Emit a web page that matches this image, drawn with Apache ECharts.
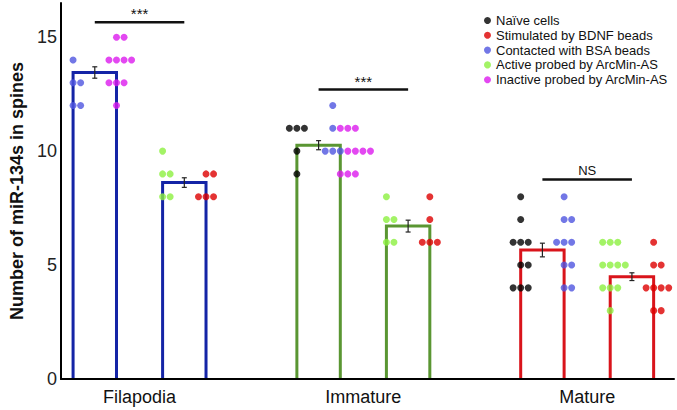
<!DOCTYPE html>
<html>
<head>
<meta charset="utf-8">
<script src="https://cdn.jsdelivr.net/npm/echarts@6/dist/echarts.min.js"></script>
<style>
html,body{margin:0;padding:0;background:#fff;}
#chart{width:677px;height:410px;}
</style>
</head>
<body>
<div id="chart"></div>
<script>
// ---------- data ----------
const categories = ['Filapodia', 'Immature', 'Mature'];
const seriesNames = ['Naïve cells', 'Stimulated by BDNF beads', 'Contacted with BSA beads', 'Active probed by ArcMin-AS', 'Inactive probed by ArcMin-AS'];
const yTicks = [0, 5, 10, 15];

const filapodiaBSA = [14, 13, 13, 12, 12];
const filapodiaInactive = [15, 15, 14, 14, 14, 14, 13, 13, 13, 12];
const filapodiaActive = [10, 9, 9, 8, 8];
const filapodiaBDNF = [9, 9, 8, 8, 8];

const immatureNaive = [11, 11, 11, 10, 9];
const immatureBSA = [12, 11, 10, 10, 10];
const immatureInactive = [11, 11, 11, 10, 10, 10, 10, 9, 9, 9];
const immatureActive = [8, 7, 7, 6, 6];
const immatureBDNF = [8, 7, 6, 6, 6];

const matureNaive = [8, 7, 6, 6, 6, 5, 5, 4, 4, 4];
const matureBSA = [8, 7, 7, 6, 6, 6, 5, 5, 4, 4];
const matureActive = [6, 6, 6, 5, 5, 5, 5, 4, 4, 4, 3];
const matureBDNF = [6, 5, 5, 4, 4, 4, 4, 3, 3];

// bars: two per category (mean, sem)
const barMeans = [13.45, 8.62, 10.26, 6.71, 5.66, 4.49];
const barErrors = [0.25, 0.21, 0.2, 0.26, 0.3, 0.17];

const sigLabels = ['***', '***', 'NS'];
const sigLevels = [15.65, 12.7, 8.75];

// ---------- style / layout ----------
const barColors = ['#1424a6', '#5a9632', '#d9141b'];
const dotColors = ['#000000', '#dd0000', '#4f55e0', '#8cf040', '#dc1aee'];
const FONT = 'Liberation Sans, Arial, Helvetica, sans-serif';
const BAR_OFFSET = 0.2;   // group units
const BAR_HALF = 0.097;
const DOT_STEP = 0.0337;

// clusters of dots next to bar edges: [barIndex, side(-1 left/1 right), [[seriesIdx, values, anchorSlot], ...]]
const clusters = [
  [0, -1, [[2, filapodiaBSA, 0]]],
  [0, 1, [[4, filapodiaInactive, 0]]],
  [1, -1, [[3, filapodiaActive, 0]]],
  [1, 1, [[1, filapodiaBDNF, 0]]],
  [2, -1, [[0, immatureNaive, 0]]],
  [2, 1, [[2, immatureBSA, -1], [4, immatureInactive, 1]]],
  [3, -1, [[3, immatureActive, 0]]],
  [3, 1, [[1, immatureBDNF, 0]]],
  [4, -1, [[0, matureNaive, 0]]],
  [4, 1, [[2, matureBSA, 0]]],
  [5, -1, [[3, matureActive, 0]]],
  [5, 1, [[1, matureBDNF, 0]]]
];

function barCenter(i) {
  const g = Math.floor(i / 2);
  return g + (i % 2 ? 1 : -1) * BAR_OFFSET;
}

const dotData = seriesNames.map(() => []);
clusters.forEach(([bi, side, parts]) => {
  const edge = barCenter(bi) + side * BAR_HALF;
  const rows = {};
  parts.forEach(([si, vals]) => vals.forEach(v => { rows[v] = true; }));
  Object.keys(rows).forEach(key => {
    const v = Number(key);
    let last = -Infinity;
    parts.forEach(([si, vals, anchor]) => {
      const k = vals.filter(x => x === v).length;
      if (!k) return;
      let start = anchor - Math.floor((k - 1) / 2);
      if (start <= last) start = last + 1;
      for (let j = 0; j < k; j++) {
        dotData[si].push([edge + (start + j) * DOT_STEP, v]);
      }
      last = start + k - 1;
    });
  });
});

const chart = echarts.init(document.getElementById('chart'), null, { renderer: 'svg' });

const option = {
  animation: false,
  backgroundColor: '#ffffff',
  textStyle: { fontFamily: FONT },
  grid: { left: 53, right: 3, top: 3, bottom: 31, containLabel: false },
  legend: {
    orient: 'vertical',
    left: 484,
    top: 14,
    padding: 0,
    itemWidth: 7,
    itemHeight: 7,
    itemGap: 1.8,
    icon: 'circle',
    data: seriesNames,
    textStyle: { fontSize: 13, color: '#111', fontFamily: FONT, padding: [0, 0, 0, 0] }
  },
  xAxis: {
    type: 'value',
    min: -0.3513,
    max: 2.388,
    splitLine: { show: false },
    axisTick: { show: false },
    axisLine: { show: true, onZero: false, lineStyle: { color: '#000', width: 2 } },
    axisLabel: {
      customValues: [0, 1, 2],
      formatter: v => categories[Math.round(v)] || '',
      fontSize: 18,
      color: '#111',
      margin: 9,
      fontFamily: FONT
    }
  },
  yAxis: {
    type: 'value',
    min: 0,
    max: 16.5,
    interval: 5,
    splitLine: { show: false },
    axisTick: { show: false },
    axisLine: { show: true, onZero: false, lineStyle: { color: '#000', width: 2 } },
    axisLabel: {
      fontSize: 18,
      color: '#222',
      margin: 4,
      fontFamily: FONT,
      formatter: v => (yTicks.indexOf(v) >= 0 ? String(v) : '')
    },
    name: 'Number of miR-134s in spines',
    nameLocation: 'middle',
    nameGap: 32,
    nameTextStyle: { fontSize: 18, fontWeight: 'bold', color: '#111', fontFamily: FONT }
  },
  series: [
    {
      type: 'custom',
      name: 'bars',
      z: 2,
      data: barMeans.map((m, i) => [i, m]),
      renderItem: (params, api) => {
        const i = api.value(0);
        const m = api.value(1);
        const c = barCenter(i);
        const p0 = api.coord([c - BAR_HALF, 0]);
        const p1 = api.coord([c + BAR_HALF, m]);
        return {
          type: 'polyline',
          shape: { points: [[p0[0], p0[1] - 1], [p0[0], p1[1]], [p1[0], p1[1]], [p1[0], p0[1] - 1]] },
          style: { stroke: barColors[Math.floor(i / 2)], fill: 'none', lineWidth: 3 }
        };
      }
    },
    {
      type: 'custom',
      name: 'errors',
      z: 3,
      data: barMeans.map((m, i) => [i, m, barErrors[i]]),
      renderItem: (params, api) => {
        const i = api.value(0);
        const m = api.value(1);
        const e = api.value(2);
        const c = barCenter(i);
        const top = api.coord([c, m + e]);
        const bot = api.coord([c, m - e]);
        const st = { stroke: '#222', lineWidth: 1.2 };
        return {
          type: 'group',
          children: [
            { type: 'line', shape: { x1: top[0], y1: top[1], x2: bot[0], y2: bot[1] }, style: st },
            { type: 'line', shape: { x1: top[0] - 2.5, y1: top[1], x2: top[0] + 2.5, y2: top[1] }, style: st },
            { type: 'line', shape: { x1: bot[0] - 2.5, y1: bot[1], x2: bot[0] + 2.5, y2: bot[1] }, style: st }
          ]
        };
      }
    },
    {
      type: 'custom',
      name: 'sig',
      z: 3,
      data: sigLevels.map((lv, g) => [g, lv]),
      renderItem: (params, api) => {
        const g = api.value(0);
        const lv = api.value(1);
        const a = api.coord([barCenter(2 * g), lv]);
        const b = api.coord([barCenter(2 * g + 1), lv]);
        const isStar = sigLabels[g].indexOf('*') >= 0;
        return {
          type: 'group',
          children: [
            { type: 'line', shape: { x1: a[0], y1: a[1], x2: b[0], y2: b[1] }, style: { stroke: '#111', lineWidth: 2.5 } },
            {
              type: 'text',
              x: (a[0] + b[0]) / 2,
              y: a[1] - (isStar ? 1 : 3),
              style: {
                text: sigLabels[g],
                fill: '#111',
                font: (isStar ? '15px ' : '13px ') + FONT,
                align: 'center',
                verticalAlign: 'bottom'
              }
            }
          ]
        };
      }
    }
  ].concat(seriesNames.map((name, si) => ({
    type: 'scatter',
    name: name,
    z: 4,
    symbol: 'circle',
    symbolSize: 7,
    itemStyle: { color: dotColors[si] },
    data: dotData[si]
  })))
};

chart.setOption(option);
</script>
</body>
</html>
